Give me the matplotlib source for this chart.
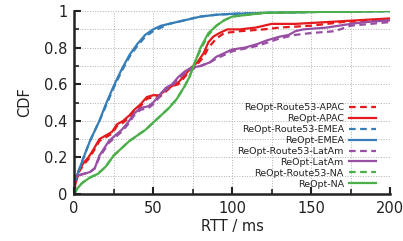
import matplotlib
matplotlib.use('Agg')
import matplotlib.pyplot as plt
from matplotlib.ticker import MultipleLocator

# CDF curves, (RTT ms, CDF)
apac_r53_x = [0, 1, 3, 6, 9, 12, 16, 20, 24, 27, 31, 35, 38, 42, 46, 50, 54, 58, 62, 66, 70, 74, 78, 82, 85, 90, 95, 105, 120, 130, 150, 170, 200]
apac_r53_y = [0, 0.06, 0.12, 0.16, 0.19, 0.23, 0.29, 0.31, 0.33, 0.37, 0.39, 0.42, 0.45, 0.48, 0.52, 0.53, 0.53, 0.56, 0.59, 0.60, 0.64, 0.68, 0.71, 0.75, 0.80, 0.85, 0.88, 0.89, 0.90, 0.91, 0.92, 0.94, 0.95]
apac_x = [0, 1, 3, 6, 9, 12, 16, 20, 24, 27, 31, 35, 38, 42, 46, 50, 54, 58, 62, 66, 70, 74, 78, 82, 85, 88, 92, 97, 105, 115, 120, 125, 140, 160, 180, 200]
apac_y = [0, 0.07, 0.13, 0.17, 0.20, 0.24, 0.30, 0.32, 0.34, 0.38, 0.40, 0.43, 0.46, 0.49, 0.53, 0.54, 0.54, 0.57, 0.59, 0.61, 0.65, 0.69, 0.72, 0.77, 0.83, 0.86, 0.88, 0.90, 0.90, 0.91, 0.92, 0.93, 0.93, 0.94, 0.95, 0.96]

emea_r53_x = [0, 0.5, 3, 6, 10, 16, 20, 25, 30, 35, 40, 45, 50, 55, 60, 70, 80, 90, 100, 120, 150, 200]
emea_r53_y = [0, 0.07, 0.13, 0.20, 0.29, 0.40, 0.48, 0.58, 0.67, 0.75, 0.81, 0.86, 0.89, 0.91, 0.93, 0.95, 0.97, 0.98, 0.985, 0.99, 0.995, 1.0]
emea_x = [0, 0.5, 3, 6, 10, 16, 20, 25, 30, 35, 40, 45, 50, 55, 60, 70, 80, 90, 100, 120, 150, 200]
emea_y = [0, 0.07, 0.13, 0.20, 0.29, 0.40, 0.49, 0.59, 0.68, 0.76, 0.82, 0.87, 0.90, 0.92, 0.93, 0.95, 0.97, 0.98, 0.985, 0.99, 0.995, 1.0]

latam_r53_x = [0, 0.5, 2, 6, 10, 13, 16, 19, 22, 26, 30, 34, 38, 42, 47, 50, 54, 58, 62, 66, 70, 74, 80, 86, 90, 95, 100, 116, 130, 140, 150, 165, 175, 200]
latam_r53_y = [0, 0.09, 0.10, 0.11, 0.12, 0.14, 0.20, 0.24, 0.28, 0.31, 0.34, 0.38, 0.43, 0.46, 0.47, 0.49, 0.53, 0.57, 0.59, 0.63, 0.66, 0.68, 0.70, 0.72, 0.74, 0.76, 0.78, 0.81, 0.85, 0.87, 0.88, 0.89, 0.92, 0.94]
latam_x = [0, 0.5, 2, 6, 10, 13, 16, 19, 22, 26, 30, 34, 38, 42, 47, 50, 54, 58, 62, 66, 70, 74, 80, 86, 90, 95, 100, 108, 116, 122, 130, 136, 140, 145, 160, 175, 185, 200]
latam_y = [0, 0.09, 0.10, 0.11, 0.12, 0.14, 0.21, 0.25, 0.29, 0.32, 0.35, 0.39, 0.44, 0.47, 0.48, 0.50, 0.54, 0.58, 0.60, 0.64, 0.67, 0.69, 0.70, 0.72, 0.75, 0.77, 0.79, 0.80, 0.82, 0.84, 0.86, 0.87, 0.89, 0.90, 0.91, 0.93, 0.94, 0.95]

na_r53_x = [0, 2, 5, 10, 15, 20, 25, 30, 35, 40, 45, 50, 55, 60, 65, 70, 73, 76, 80, 85, 90, 95, 100, 110, 120, 150, 200]
na_r53_y = [0, 0.03, 0.06, 0.09, 0.11, 0.15, 0.21, 0.25, 0.29, 0.32, 0.35, 0.39, 0.43, 0.47, 0.52, 0.59, 0.64, 0.71, 0.79, 0.87, 0.92, 0.95, 0.97, 0.98, 0.99, 0.995, 1.0]
na_x = [0, 2, 5, 10, 15, 20, 25, 30, 35, 40, 45, 50, 55, 60, 65, 70, 73, 76, 80, 85, 90, 95, 100, 110, 120, 150, 200]
na_y = [0, 0.03, 0.06, 0.09, 0.11, 0.15, 0.21, 0.25, 0.29, 0.32, 0.35, 0.39, 0.43, 0.47, 0.52, 0.59, 0.64, 0.71, 0.80, 0.88, 0.92, 0.95, 0.97, 0.98, 0.99, 0.995, 1.0]

red = '#e41a1c'
blue = '#377eb8'
purple = '#984ea3'
green = '#4daf4a'

fig = plt.figure(figsize=(4.03, 2.41), dpi=100)
ax = fig.add_axes([0.184, 0.195, 0.784, 0.759])

lw = 1.6
dash = (0, (3, 2))
ax.plot(apac_r53_x, apac_r53_y, color=red, lw=lw, ls=dash, label='ReOpt-Route53-APAC')
ax.plot(apac_x, apac_y, color=red, lw=lw, label='ReOpt-APAC')
ax.plot(emea_r53_x, emea_r53_y, color=blue, lw=lw, ls=dash, label='ReOpt-Route53-EMEA')
ax.plot(emea_x, emea_y, color=blue, lw=lw, label='ReOpt-EMEA')
ax.plot(latam_r53_x, latam_r53_y, color=purple, lw=lw, ls=dash, label='ReOpt-Route53-LatAm')
ax.plot(latam_x, latam_y, color=purple, lw=lw, label='ReOpt-LatAm')
ax.plot(na_r53_x, na_r53_y, color=green, lw=lw, ls=dash, label='ReOpt-Route53-NA')
ax.plot(na_x, na_y, color=green, lw=lw, label='ReOpt-NA')

ax.set_xlim(0, 200)
ax.set_ylim(0, 1)
ax.xaxis.set_major_locator(MultipleLocator(50))
ax.xaxis.set_minor_locator(MultipleLocator(25))
ax.yaxis.set_major_locator(MultipleLocator(0.2))
ax.yaxis.set_minor_locator(MultipleLocator(0.1))
ax.yaxis.set_major_formatter(lambda v, p: '%g' % round(v, 2))

ax.grid(True, which='both', color='#b0b0b0', ls=':', lw=0.7)
ax.set_axisbelow(True)
for s in ['top', 'right']:
    ax.spines[s].set_visible(False)
for s in ['left', 'bottom']:
    ax.spines[s].set_linewidth(1.8)
    ax.spines[s].set_color('#222222')
ax.tick_params(which='major', direction='in', length=5, width=1.5, labelsize=10.5, pad=5, colors='#222222')
ax.tick_params(which='minor', direction='in', length=3.5, width=1.2, colors='#222222')

ax.set_xlabel('RTT / ms', fontsize=10.5, labelpad=2, color='#222222')
ax.set_ylabel('CDF', fontsize=10.5, labelpad=8, color='#222222')

leg = ax.legend(loc='lower right', bbox_to_anchor=(0.955, 0.03), frameon=False, markerfirst=False,
                fontsize=6.8, handlelength=2.8, labelspacing=0.2, borderaxespad=0, borderpad=0, handletextpad=0.6)
for t in leg.get_texts():
    t.set_color('#222222')

fig.savefig('out.png', dpi=100)
